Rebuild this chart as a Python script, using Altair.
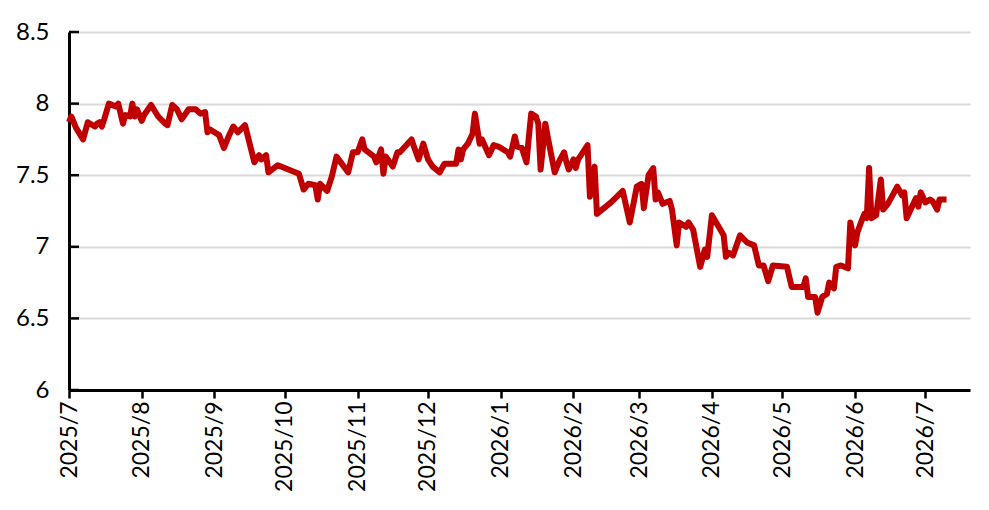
import altair as alt
import pandas as pd

dates = [
    "2025-07-01", "2025-07-02", "2025-07-04", "2025-07-07", "2025-07-09", "2025-07-12", "2025-07-13",
    "2025-07-14", "2025-07-15", "2025-07-16", "2025-07-18", "2025-07-21", "2025-07-22", "2025-07-24",
    "2025-07-25", "2025-07-27", "2025-07-28", "2025-07-29", "2025-07-30", "2025-08-01", "2025-08-02",
    "2025-08-05", "2025-08-08", "2025-08-11", "2025-08-12", "2025-08-14", "2025-08-16", "2025-08-18",
    "2025-08-21", "2025-08-24", "2025-08-26", "2025-08-28", "2025-08-29", "2025-08-30", "2025-09-01",
    "2025-09-03", "2025-09-05", "2025-09-07", "2025-09-09", "2025-09-11", "2025-09-14", "2025-09-18",
    "2025-09-20", "2025-09-21", "2025-09-23", "2025-09-24", "2025-09-28", "2025-10-07", "2025-10-09",
    "2025-10-11", "2025-10-14", "2025-10-15", "2025-10-16", "2025-10-19", "2025-10-21", "2025-10-23",
    "2025-10-28", "2025-10-30", "2025-11-01", "2025-11-03", "2025-11-04", "2025-11-08", "2025-11-09",
    "2025-11-11", "2025-11-12", "2025-11-13", "2025-11-16", "2025-11-18", "2025-11-19", "2025-11-24",
    "2025-11-25", "2025-11-27", "2025-11-29", "2025-12-01", "2025-12-03", "2025-12-06", "2025-12-08",
    "2025-12-13", "2025-12-14", "2025-12-15", "2025-12-16", "2025-12-18", "2025-12-20", "2025-12-21",
    "2025-12-23", "2025-12-24", "2025-12-27", "2025-12-29", "2025-12-31", "2026-01-04", "2026-01-05",
    "2026-01-07", "2026-01-08", "2026-01-10", "2026-01-12", "2026-01-13", "2026-01-14", "2026-01-16",
    "2026-01-17", "2026-01-18", "2026-01-20", "2026-01-21", "2026-01-24", "2026-01-26", "2026-01-28",
    "2026-01-29", "2026-01-30", "2026-02-01", "2026-02-02", "2026-02-03", "2026-02-05", "2026-02-07",
    "2026-02-08", "2026-02-10", "2026-02-11", "2026-02-17", "2026-02-22", "2026-02-25", "2026-02-28",
    "2026-03-02", "2026-03-03", "2026-03-05", "2026-03-07", "2026-03-08", "2026-03-09", "2026-03-11",
    "2026-03-14", "2026-03-15", "2026-03-17", "2026-03-18", "2026-03-21", "2026-03-22", "2026-03-24",
    "2026-03-27", "2026-03-29", "2026-03-30", "2026-04-01", "2026-04-06", "2026-04-07", "2026-04-08",
    "2026-04-10", "2026-04-13", "2026-04-16", "2026-04-19", "2026-04-21", "2026-04-23", "2026-04-25",
    "2026-04-27", "2026-05-03", "2026-05-05", "2026-05-10", "2026-05-11", "2026-05-12", "2026-05-15",
    "2026-05-16", "2026-05-18", "2026-05-20", "2026-05-21", "2026-05-23", "2026-05-24", "2026-05-26",
    "2026-05-29", "2026-05-30", "2026-06-01", "2026-06-02", "2026-06-04", "2026-06-05", "2026-06-06",
    "2026-06-07", "2026-06-08", "2026-06-10", "2026-06-12", "2026-06-13", "2026-06-15", "2026-06-19",
    "2026-06-21", "2026-06-22", "2026-06-23", "2026-06-25", "2026-06-27", "2026-06-28", "2026-06-29",
    "2026-07-01", "2026-07-03", "2026-07-04", "2026-07-06", "2026-07-07", "2026-07-10",
]

values = [
    7.87, 7.91, 7.83, 7.75, 7.87, 7.84, 7.86,
    7.87, 7.84, 7.89, 8.00, 7.98, 8.00, 7.86,
    7.92, 7.91, 8.00, 7.91, 7.96, 7.88, 7.92,
    7.99, 7.91, 7.86, 7.85, 7.99, 7.96, 7.89,
    7.96, 7.96, 7.93, 7.94, 7.80, 7.82, 7.80,
    7.78, 7.69, 7.77, 7.84, 7.80, 7.85, 7.59,
    7.64, 7.61, 7.64, 7.52, 7.57, 7.51, 7.40,
    7.44, 7.43, 7.33, 7.44, 7.39, 7.49, 7.63,
    7.52, 7.66, 7.66, 7.75, 7.68, 7.63, 7.59,
    7.68, 7.51, 7.63, 7.56, 7.66, 7.66, 7.75,
    7.70, 7.61, 7.72, 7.61, 7.56, 7.52, 7.58,
    7.58, 7.68, 7.61, 7.68, 7.72, 7.79, 7.93,
    7.72, 7.75, 7.64, 7.71, 7.70, 7.66, 7.63,
    7.77, 7.70, 7.69, 7.59, 7.77, 7.93, 7.91,
    7.86, 7.54, 7.86, 7.77, 7.52, 7.60, 7.66,
    7.59, 7.54, 7.61, 7.55, 7.61, 7.66, 7.71,
    7.35, 7.56, 7.23, 7.31, 7.39, 7.17, 7.42,
    7.44, 7.27, 7.50, 7.55, 7.33, 7.38, 7.30,
    7.32, 7.26, 7.01, 7.17, 7.14, 7.17, 7.12,
    6.86, 6.98, 6.93, 7.22, 7.08, 6.93, 6.96,
    6.94, 7.08, 7.03, 7.01, 6.87, 6.87, 6.76,
    6.87, 6.86, 6.72, 6.72, 6.78, 6.65, 6.65,
    6.54, 6.65, 6.67, 6.75, 6.71, 6.86, 6.87,
    6.85, 7.17, 7.01, 7.10, 7.19, 7.23, 7.20,
    7.55, 7.20, 7.22, 7.47, 7.26, 7.30, 7.42,
    7.36, 7.38, 7.20, 7.27, 7.34, 7.28, 7.38,
    7.31, 7.33, 7.32, 7.26, 7.33, 7.33,
]

y_ticks = [6, 6.5, 7, 7.5, 8, 8.5]
month_ticks = [(2025, m) for m in range(7, 13)] + [(2026, m) for m in range(1, 8)]

df = pd.DataFrame({"date": dates, "value": values})
tick_df = pd.DataFrame({"v": y_ticks})

FONT = "Lato"
x_values = [alt.DateTime(year=y, month=m, date=1, utc=True) for y, m in month_ticks]

x_enc = alt.X(
    "date:T",
    scale=alt.Scale(
        type="utc",
        domain=[alt.DateTime(year=2025, month=7, date=1, utc=True),
                alt.DateTime(year=2026, month=7, date=20, utc=True)],
    ),
    axis=alt.Axis(
        values=x_values, labelExpr="utcFormat(datum.value, '%Y/%-m')", labelAngle=-90,
        title=None, grid=False, domainColor="black", domainWidth=3,
        tickColor="black", tickWidth=2.5, tickSize=8, labelPadding=3,
        labelFont=FONT, labelFontSize=23, labelColor="black", labelFlush=False,
        labelOverlap=False,
    ),
)

y_scale = alt.Scale(domain=[6, 8.5], zero=False, nice=False)

line = alt.Chart(df).mark_line(color="#C00000", strokeWidth=6, strokeJoin="round").encode(
    x=x_enc,
    y=alt.Y(
        "value:Q", scale=y_scale,
        axis=alt.Axis(
            values=y_ticks, format=".1~f", title=None, grid=True,
            gridColor="#d9d9d9", gridWidth=2, domainColor="black", domainWidth=3,
            ticks=False, labelPadding=20, labelFont=FONT, labelFontSize=24,
            labelColor="black",
        ),
    ),
)

ticks = alt.Chart(tick_df).mark_rule(color="black", strokeWidth=2.5).encode(
    y=alt.Y("v:Q", scale=y_scale),
    x=alt.value(0),
    x2=alt.value(10),
)

chart = alt.layer(line, ticks).properties(
    width=901, height=358,
    autosize=alt.AutoSizeParams(type="none"),
    padding={"left": 61, "top": 24, "right": 4, "bottom": 104},
).configure_view(stroke=None)

chart.save("out.html", embed_options={"renderer": "svg", "actions": False})
